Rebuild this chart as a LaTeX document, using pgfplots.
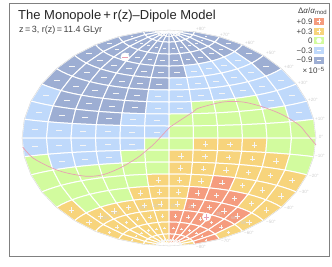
\documentclass[border=0pt]{standalone}
\usepackage{pgfplots}
\pgfplotsset{compat=1.18}
\usepackage{fontspec}
\setmainfont{Liberation Sans}
\definecolor{D}{HTML}{9DAED3}
\definecolor{L}{HTML}{BFD9FB}
\definecolor{G}{HTML}{D2FB9E}
\definecolor{Y}{HTML}{F7D47C}
\definecolor{R}{HTML}{F59C7E}
\definecolor{lab}{HTML}{CFCFCF}
\definecolor{pk}{HTML}{E8A0B4}
\pgfmathdeclarefunction{aitf}{2}{\pgfmathparse{(acos(cos(#2)*cos(#1/2))/57.29578+0.001)/(sin(acos(cos(#2)*cos(#1/2)))+0.001)}}
\newcommand\pt[3]{%
 \pgfmathsetmacro\tx{169+46.8*2*cos(#3)*sin((#2)/2)*aitf(#2,#3)}%
 \pgfmathsetmacro\ty{138-68.75*sin(#3)*aitf(#2,#3)}%
 \edef#1{(\tx,\ty)}}
\newcommand\onecell[3]{%
 \pgfmathsetmacro\lo{-180+30*(#2)}%
 \pgfmathsetmacro\lb{\lo+10}\pgfmathsetmacro\lc{\lo+20}\pgfmathsetmacro\ld{\lo+30}\pgfmathsetmacro\lu{#3+10}%
 \pt\pa{\lo}{#3}\pt\pb{\lb}{#3}\pt\pc{\lc}{#3}\pt\pd{\ld}{#3}%
 \pt\pe{\ld}{\lu}\pt\pf{\lc}{\lu}\pt\pg{\lb}{\lu}\pt\ph{\lo}{\lu}%
 \pgfmathsetmacro\mm{#3+5}\pgfmathsetmacro\ll{\lo+15}\pt\pm{\ll}{\mm}%
 \edef\tmp{\noexpand\addplot[fill=#1,draw=white,line width=1.0pt,forget plot] coordinates {\pa\pb\pc\pd\pe\pf\pg\ph} -- cycle;}\tmp
 \edef\tmpm{\noexpand\csname sign#1\noexpand\endcsname{\pm}{\mm}}\tmpm
}
\newcommand\signD[2]{\sgn{-}{#1}{#2}{3.0}}
\newcommand\signL[2]{\sgn{-}{#1}{#2}{3.0}}
\newcommand\signG[2]{}
\newcommand\signY[2]{\sgn{+}{#1}{#2}{2.7}}
\newcommand\signR[2]{\sgn{+}{#1}{#2}{2.7}}
\newcommand\sgn[4]{\pgfmathsetmacro\ms{#4*(abs(#3)>70?0.45:(abs(#3)>60?0.7:1))}%
 \edef\tmps{\noexpand\addplot[only marks,mark=#1,mark size=\ms,white!92!gray,mark options={line width=0.45pt},forget plot] coordinates {#2};}\tmps}
\def\dorow#1#2#3#4#5#6#7#8#9{\onecell{#1}{0}{\curlat}\onecell{#2}{1}{\curlat}\onecell{#3}{2}{\curlat}\onecell{#4}{3}{\curlat}\onecell{#5}{4}{\curlat}\onecell{#6}{5}{\curlat}\onecell{#7}{6}{\curlat}\onecell{#8}{7}{\curlat}\onecell{#9}{8}{\curlat}\dorowb}
\def\dorowb#1#2#3{\onecell{#1}{9}{\curlat}\onecell{#2}{10}{\curlat}\onecell{#3}{11}{\curlat}}
\newcommand\swatch[4]{\addplot[fill=#1,draw=none,forget plot] coordinates {(314,#2)(324,#2)(324,#3)(314,#3)} -- cycle;%
 \addplot[only marks,mark=#4,mark size=2.4,white,mark options={line width=0.55pt},forget plot] coordinates {(319,{(#2+#3)/2})};}
\begin{document}
\begin{tikzpicture}
\begin{axis}[width=332pt,height=266pt,scale only axis,xmin=0,xmax=332,ymin=0,ymax=266,y dir=reverse,hide axis,clip=false]
\addplot[draw=none,forget plot] coordinates {(0,0)(332,266)};
\path[use as bounding box] (axis cs:0,0) rectangle (axis cs:332,266);
\def\curlat{80}\dorow DDDDDDDDDDDD
\def\curlat{70}\dorow DDDDDDDDDDDD
\def\curlat{60}\dorow DDDDDDDDDDDD
\def\curlat{50}\dorow DDDDDDDLLLLD
\def\curlat{40}\dorow DDDDDDLLLLLD
\def\curlat{30}\dorow DDDDDLLLLLLL
\def\curlat{20}\dorow LDDDDLLGGGLL
\def\curlat{10}\dorow LDDDLLGGGGGL
\def\curlat{0}\dorow LLLLLLGGGGGG
\def\curlat{-10}\dorow LLLLLGGYYYGG
\def\curlat{-20}\dorow GLLLGGYYYYYG
\def\curlat{-30}\dorow GGGGGGYYYYYY
\def\curlat{-40}\dorow GGGGGYYYRYYY
\def\curlat{-50}\dorow YGGGYYYRRRYY
\def\curlat{-60}\dorow YYYYYYYRRRRY
\def\curlat{-70}\dorow YYYYYYRRRRRY
\def\curlat{-80}\dorow YYYYYYRRRRRR
\def\curlat{-90}\dorow YYYYYYRRRRYY
% sky outline
\pgfplotsforeachungrouped \la in {-90,-80,...,80}{
 \pgfmathsetmacro\lu{\la+10}\pt\pa{-180}{\la}\pt\pb{-180}{\lu}\pt\pc{180}{\la}\pt\pd{180}{\lu}%
 \edef\tmp{\noexpand\addplot[lab,line width=0.3pt,forget plot] coordinates {\pa\pb};\noexpand\addplot[lab,line width=0.3pt,forget plot] coordinates {\pc\pd};}\tmp}
% dipole equator
\addplot[pk,line width=0.7pt,smooth] coordinates {(22.7,147)(33,158)(52,168)(67,173)(87,176.3)(103,174.7)(120,168)(137,158)(147,150)(155,143)(170,127)(176,123)(193,112)(199,108)(223,102)(243,102)(263,107)(283,115)(299,125)(306,133)(316,145)};
% poles
\addplot[only marks,mark=*,mark size=4.2,white,mark options={draw=white}] coordinates {(125,57)(206.5,217)};
\addplot[only marks,mark=-,mark size=2.8,pk,mark options={line width=0.8pt}] coordinates {(125,57)};
\addplot[only marks,mark=+,mark size=2.8,pk,mark options={line width=0.8pt}] coordinates {(206.5,217)};
% frame
\addplot[draw=gray,line width=1pt] coordinates {(9.5,3)(329,3)(329,256)(9.5,256)} -- cycle;
% legend
\swatch{R}{18}{25}{+}
\swatch{Y}{28}{35}{+}
\swatch{G}{37}{44}{none}
\swatch{L}{47}{54}{-}
\swatch{D}{56.5}{63.5}{-}
\node[anchor=east,font=\fontsize{8}{9}\selectfont,text=black!75,inner sep=0pt] at (axis cs:327.5,11) {Δ\textit{α}/\textit{α}\textsubscript{mod}};
\foreach \y/\t in {21.5/+0.9,31.5/+0.3,40.5/0,50.5/−0.3,60/−0.9}{
 \edef\tmpn{\noexpand\node[anchor=east,font=\noexpand\fontsize{8}{9}\noexpand\selectfont,text=black!75,inner sep=0pt] at (axis cs:312.7,\y) {\t};}\tmpn}
\node[anchor=east,font=\fontsize{8}{9}\selectfont,text=black!75,inner sep=0pt] at (axis cs:325,70.5) {×\,10\textsuperscript{−5}};
% titles
\node[anchor=base west,font=\fontsize{13}{14}\selectfont,text=black!85,inner sep=0pt] at (axis cs:18,19.5) {The Monopole\,+\,r(z)–Dipole Model};
\node[anchor=base west,font=\fontsize{9}{10}\selectfont,text=black!75,inner sep=0pt] at (axis cs:19,32) {z\,=\,3, r(z)\,=\,11.4 GLyr};
% latitude labels
\foreach \x/\y/\t in {201/29/+80,225/35/+70,250/43/+60,271/53/+50,289/67/+40,303/83/+30,313/100/+20,320/119/+10,321/137/0,320/156/−10,314/176/−20,304/192/−30,289/208/−40,271/222/−50,249/233/−60,226/241/−70,201/247/−80}{
 \edef\tmpn{\noexpand\node[font=\noexpand\fontsize{4.6}{5}\noexpand\selectfont,text=lab,inner sep=0pt] at (axis cs:\x,\y) {\t°};}\tmpn}
% faint hour labels
\foreach \x/\y/\t in {105/218/16h,115/213/18h,143/208/20h,157/206/22h,174/206/0h,191/207/2h,219/214/4h,234/218/6h,244/223/8h}{
 \edef\tmpn{\noexpand\node[font=\noexpand\fontsize{4.6}{5}\noexpand\selectfont,text=lab,inner sep=0pt] at (axis cs:\x,\y) {\t};}\tmpn}
\end{axis}
\end{tikzpicture}
\end{document}
